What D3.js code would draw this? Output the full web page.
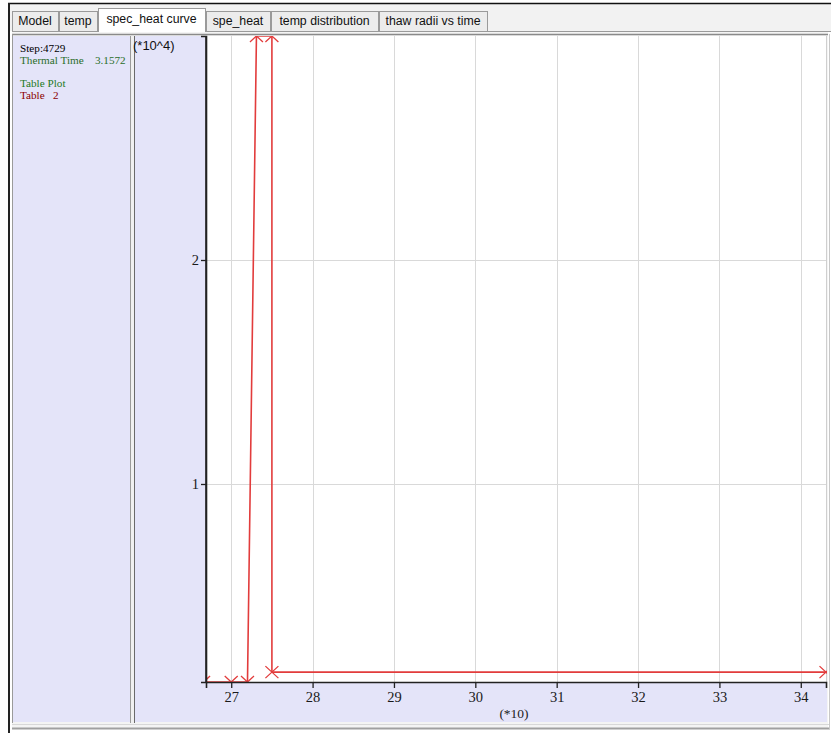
<!DOCTYPE html>
<html><head><meta charset="utf-8">
<script src="https://cdn.jsdelivr.net/npm/d3@7"></script>
<style>body{margin:0;background:#fff}svg{display:block}</style>
</head><body><svg id="c" width="831" height="733"></svg>
<script>
// ---- data ----
const tabLabels = ["Model", "temp", "spec_heat curve", "spe_heat", "temp distribution", "thaw radii vs time"];
const activeTab = "spec_heat curve";
const infoLines = ["Step:4729", "Thermal Time    3.1572", "", "Table Plot", "Table   2"];
const temperature = [266.6, 270.0, 272.0, 273.1, 275.0, 275.0, 343.1];
const specHeat = [1160, 1160, 1160, 30000, 30000, 1600, 1600];
const xTicks = [270, 280, 290, 300, 310, 320, 330, 340];
const xTickLabels = ["27", "28", "29", "30", "31", "32", "33", "34"];
const yTicks = [10000, 20000];
const yTickLabels = ["1", "2"];
const xUnitLabel = "(*10)";
const yUnitLabel = "(*10^4)";

// ---- layout / style ----
const svg = d3.select("#c");
const W = 831, H = 733;
const lav = "#e4e4f9";
const infoColors = ["#000", "#2a6e2a", "#000", "#1e7a1e", "#8b0000"];
const tabEdges = [12, 59, 98, 206, 271, 379, 488];
const P = {l: 206, r: 826, t: 36, b: 682};

svg.append("rect").attr("width", W).attr("height", H).attr("fill", "#fff");
// outer window frame
svg.append("rect").attr("x", 9).attr("y", 4).attr("width", W - 9).attr("height", 27).attr("fill", "#f2f2f2");
svg.append("line").attr("x1", 8).attr("x2", W).attr("y1", 3.5).attr("y2", 3.5).attr("stroke", "#111").attr("stroke-width", 1.5);
svg.append("line").attr("x1", 9).attr("x2", 9).attr("y1", 3).attr("y2", H).attr("stroke", "#222").attr("stroke-width", 2);

// tabs
const tabG = svg.append("g");
tabLabels.forEach((t, i) => {
  const x0 = tabEdges[i], x1 = tabEdges[i + 1] - 1;
  const act = t === activeTab;
  const y0 = act ? 8 : 11;
  tabG.append("rect").attr("x", x0 + 0.5).attr("y", y0 + 0.5).attr("width", x1 - x0).attr("height", 31 - y0 + (act ? 1 : 0))
    .attr("fill", act ? "#fff" : "#ececec").attr("stroke", "#9a9a9a");
  tabG.append("text").attr("x", (x0 + x1) / 2).attr("y", act ? 23 : 25).attr("text-anchor", "middle")
    .attr("font-family", "Liberation Sans, Arial, sans-serif").attr("font-size", 12.3).attr("fill", "#111").text(t);
});
svg.append("line").attr("x1", 12).attr("x2", W).attr("y1", 31.5).attr("y2", 31.5).attr("stroke", "#9a9a9a");
svg.append("rect").attr("x", tabEdges[2] + 1).attr("y", 30).attr("width", tabEdges[3] - tabEdges[2] - 2).attr("height", 3).attr("fill", "#fff");

// content panel
svg.append("rect").attr("x", 12).attr("y", 32).attr("width", 816).attr("height", 696).attr("fill", "#f4f4f4");
svg.append("rect").attr("x", 13).attr("y", 36).attr("width", 814).attr("height", 686).attr("fill", lav);
svg.append("line").attr("x1", 12).attr("x2", 828).attr("y1", 34.5).attr("y2", 34.5).attr("stroke", "#8a8a8a").attr("stroke-width", 1.5);
svg.append("line").attr("x1", 12.5).attr("x2", 12.5).attr("y1", 34).attr("y2", 723).attr("stroke", "#9a9a9a");
svg.append("line").attr("x1", 12).attr("x2", 830).attr("y1", 728.5).attr("y2", 728.5).attr("stroke", "#a0a0a0").attr("stroke-width", 2);
svg.append("line").attr("x1", 12).attr("x2", 830).attr("y1", 724.5).attr("y2", 724.5).attr("stroke", "#d8d8d8");
svg.append("line").attr("x1", 829.5).attr("x2", 829.5).attr("y1", 34).attr("y2", 729).attr("stroke", "#c8c8c8");
// separator between info panel and chart
svg.append("rect").attr("x", 130).attr("y", 36).attr("width", 5).attr("height", 687).attr("fill", "#f0f0f0");
svg.append("line").attr("x1", 130.5).attr("x2", 130.5).attr("y1", 36).attr("y2", 723).attr("stroke", "#9a9a9a");
svg.append("line").attr("x1", 134.5).attr("x2", 134.5).attr("y1", 36).attr("y2", 723).attr("stroke", "#6a6a6a");

// info text
const infoClip = svg.append("clipPath").attr("id", "infoClip");
infoClip.append("rect").attr("x", 13).attr("y", 36).attr("width", 120).attr("height", 100);
const infoG = svg.append("g").attr("clip-path", "url(#infoClip)");
infoLines.forEach((t, i) => {
  infoG.append("text").attr("x", 20).attr("y", 52 + i * 11.7).attr("xml:space", "preserve")
    .attr("font-family", "Liberation Serif, Times New Roman, serif").attr("font-size", 11.2)
    .attr("fill", infoColors[i]).text(t);
});

// plot area
svg.append("rect").attr("x", P.l).attr("y", P.t).attr("width", P.r - P.l).attr("height", P.b - P.t).attr("fill", "#fff");
svg.append("line").attr("x1", P.r + 0.5).attr("x2", P.r + 0.5).attr("y1", P.t).attr("y2", P.b).attr("stroke", "#cfcfcf");

const x = d3.scaleLinear().domain([266.9, 343.1]).range([P.l, P.r]);
const y = d3.scaleLinear().domain([1160, 30000]).range([P.b, P.t]);

// grid
const grid = svg.append("g").attr("stroke", "#d9d9d9").attr("stroke-width", 1);
grid.selectAll(".vx").data(xTicks).join("line")
  .attr("x1", d => Math.round(x(d)) + 0.5).attr("x2", d => Math.round(x(d)) + 0.5).attr("y1", P.t).attr("y2", P.b);
grid.selectAll(".hy").data(yTicks).join("line")
  .attr("y1", d => Math.round(y(d)) + 0.5).attr("y2", d => Math.round(y(d)) + 0.5).attr("x1", P.l).attr("x2", P.r);

// data
const clip = svg.append("clipPath").attr("id", "plotClip");
clip.append("rect").attr("x", P.l).attr("y", P.t).attr("width", P.r - P.l + 1).attr("height", P.b - P.t);
const pts = temperature.map((t, i) => [t, specHeat[i]]);
const dg = svg.append("g").attr("clip-path", "url(#plotClip)");
dg.append("path").datum(pts)
  .attr("d", d3.line().x(d => x(d[0])).y(d => y(d[1])))
  .attr("fill", "none").attr("stroke", "#e23c3c").attr("stroke-width", 1.6);
dg.selectAll(".m").data(pts).join("path")
  .attr("transform", d => `translate(${x(d[0])},${y(d[1])})`)
  .attr("d", "M-6.5,-6L6.5,6M-6.5,6L6.5,-6")
  .attr("fill", "none").attr("stroke", "#e23c3c").attr("stroke-width", 1.3);

// axes
const fmtX = d => xTickLabels[xTicks.indexOf(d)];
const fmtY = d => yTickLabels[yTicks.indexOf(d)];
const xAxis = svg.append("g").attr("transform", `translate(0,${P.b})`)
  .call(d3.axisBottom(x).tickValues(xTicks).tickFormat(fmtX).tickSizeOuter(0).tickSize(6).tickPadding(4));
const yAxis = svg.append("g").attr("transform", `translate(${P.l},0)`)
  .call(d3.axisLeft(y).tickValues(yTicks).tickFormat(fmtY).tickSizeOuter(0).tickSize(5).tickPadding(2));
[xAxis, yAxis].forEach(g => {
  g.select(".domain").attr("stroke", "#222").attr("stroke-width", 1.6);
  g.selectAll(".tick line").attr("stroke", "#222").attr("stroke-width", 1.3);
  g.selectAll(".tick text").attr("font-family", "Liberation Serif, Times New Roman, serif").attr("font-size", 14.5).attr("fill", "#1a1a1a");
});
svg.append("line").attr("x1", P.l).attr("x2", P.l).attr("y1", P.t).attr("y2", P.b).attr("stroke", "#222").attr("stroke-width", 1.6);

svg.append("text").attr("x", 514).attr("y", 718).attr("text-anchor", "middle")
  .attr("font-family", "Liberation Serif, Times New Roman, serif").attr("font-size", 13.5).attr("fill", "#222").text(xUnitLabel);
svg.append("text").attr("x", 133).attr("y", 50)
  .attr("font-family", "Liberation Sans, Arial, sans-serif").attr("font-size", 13).attr("fill", "#111").text(yUnitLabel);
</script></body></html>
